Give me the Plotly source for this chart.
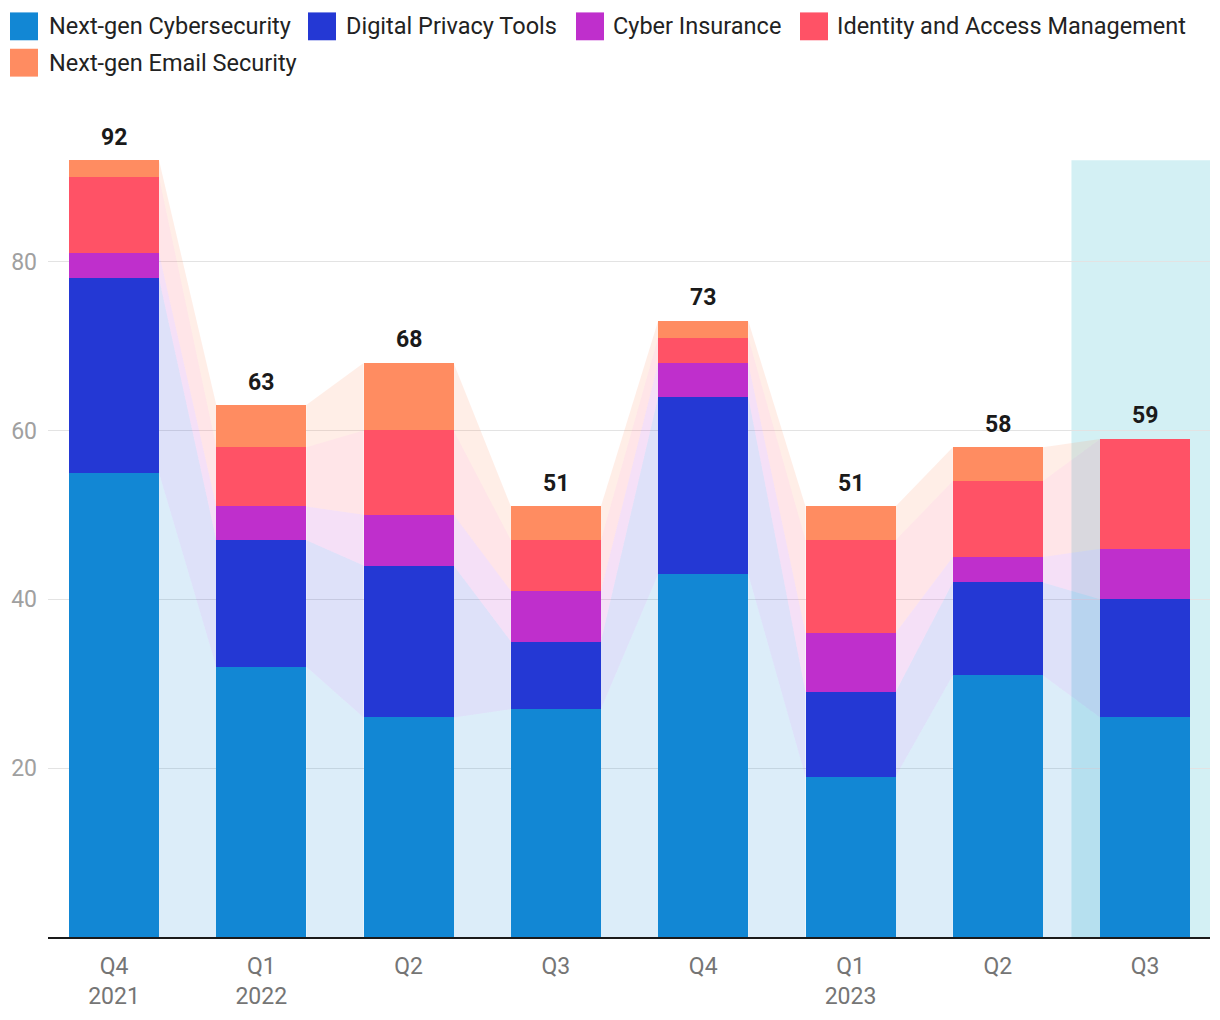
import plotly.graph_objects as go

# ---------------- data ----------------
categories = ["Q4 2021", "Q1 2022", "Q2 2022", "Q3 2022", "Q4 2022", "Q1 2023", "Q2 2023", "Q3 2023"]
tick_labels = ["Q4<br>2021", "Q1<br>2022", "Q2", "Q3", "Q4", "Q1<br>2023", "Q2", "Q3"]
series_names = ["Next-gen Cybersecurity", "Digital Privacy Tools", "Cyber Insurance",
                "Identity and Access Management", "Next-gen Email Security"]
cyber = [55, 32, 26, 27, 43, 19, 31, 26]
privacy = [23, 15, 18, 8, 21, 10, 11, 14]
insurance = [3, 4, 6, 6, 4, 7, 3, 6]
iam = [9, 7, 10, 6, 3, 11, 9, 13]
email = [2, 5, 8, 4, 2, 4, 4, 0]
highlight_index = 7

colors = ["#1287D4", "#2438D4", "#BF2FCC", "#FF5266", "#FF8C61"]
fills = ["rgba(18,135,212,0.15)", "rgba(36,56,212,0.15)", "rgba(191,47,204,0.15)",
         "rgba(255,82,102,0.15)", "rgba(255,140,97,0.15)"]

all_series = [cyber, privacy, insurance, iam, email]
n = len(categories)
xs = list(range(n))
bar_w = 0.611
hw = bar_w / 2

# cumulative bases
bases = []
run = [0] * n
for s in all_series:
    bases.append(list(run))
    run = [r + v for r, v in zip(run, s)]
totals = run

fig = go.Figure()

# connecting areas between bars
for k, s in enumerate(all_series):
    b = bases[k]
    for i in range(n - 1):
        px = [i + hw, i + hw, i + 1 - hw, i + 1 - hw, i + hw]
        py = [b[i], b[i] + s[i], b[i + 1] + s[i + 1], b[i + 1], b[i]]
        fig.add_trace(go.Scatter(x=px, y=py, mode="lines", fill="toself",
                                 fillcolor=fills[k], line=dict(width=0),
                                 hoverinfo="skip", showlegend=False))

# stacked bars
for k, s in enumerate(all_series):
    fig.add_trace(go.Bar(x=xs, y=s, name=series_names[k], width=bar_w,
                         marker=dict(color=colors[k], line=dict(width=0)),
                         showlegend=False))

# total labels
for i, t in enumerate(totals):
    fig.add_annotation(x=i, y=t, text=f"<b>{t}</b>", showarrow=False,
                       yanchor="middle", yshift=23,
                       font=dict(family="Roboto", size=23, color="#1a1a1a"))

# highlight of last period
fig.add_shape(type="rect", xref="x", yref="y", x0=highlight_index - 0.5, x1=highlight_index + 0.5,
              y0=0, y1=max(totals), fillcolor="#D3F0F4", line=dict(width=0), layer="below")

# manual legend
L, R, T, B = 48, 10, 100, 79
W, H = 1220, 1020
pw, ph = W - L - R, H - T - B


def px_x(p):
    return (p - L) / pw


def px_y(p):
    return (H - B - p) / ph


legend_pos = [(10, 26, 47), (308, 26, 344), (576, 26, 611), (800, 26, 835), (10, 62.5, 47)]
for k, (sx, cy, tx) in enumerate(legend_pos):
    fig.add_shape(type="rect", xref="paper", yref="paper",
                  x0=px_x(sx), x1=px_x(sx + 28), y0=px_y(cy - 14), y1=px_y(cy + 14),
                  fillcolor=colors[k], line=dict(width=0))
    fig.add_annotation(xref="paper", yref="paper", x=px_x(tx), y=px_y(cy),
                       text=series_names[k], showarrow=False, xanchor="left", yanchor="middle",
                       font=dict(family="Roboto", size=23.5, color="#222222"))

px_per_cat = 147.3
x_left = (L - 114) / px_per_cat
x_right = x_left + pw / px_per_cat
y_max = ph / 8.483

fig.update_layout(
    width=W, height=H,
    margin=dict(l=L, r=R, t=T, b=B),
    paper_bgcolor="white", plot_bgcolor="white",
    barmode="stack",
    showlegend=False,
    font=dict(family="Roboto"),
    xaxis=dict(range=[x_left, x_right], tickmode="array", tickvals=xs, ticktext=tick_labels,
               showgrid=False, zeroline=False, showline=True, linecolor="#1a1a1a", linewidth=2,
               ticks="", ticklabelstandoff=7,
               tickfont=dict(family="Roboto", size=23, color="#757575")),
    yaxis=dict(range=[0, y_max], tickmode="array", tickvals=[20, 40, 60, 80],
               showgrid=True, gridcolor="#E3E3E3", gridwidth=1, zeroline=False,
               showline=False, ticks="", ticklabelstandoff=10,
               tickfont=dict(family="Roboto", size=23, color="#A0A0A0")),
)

fig.write_html("out.html")
